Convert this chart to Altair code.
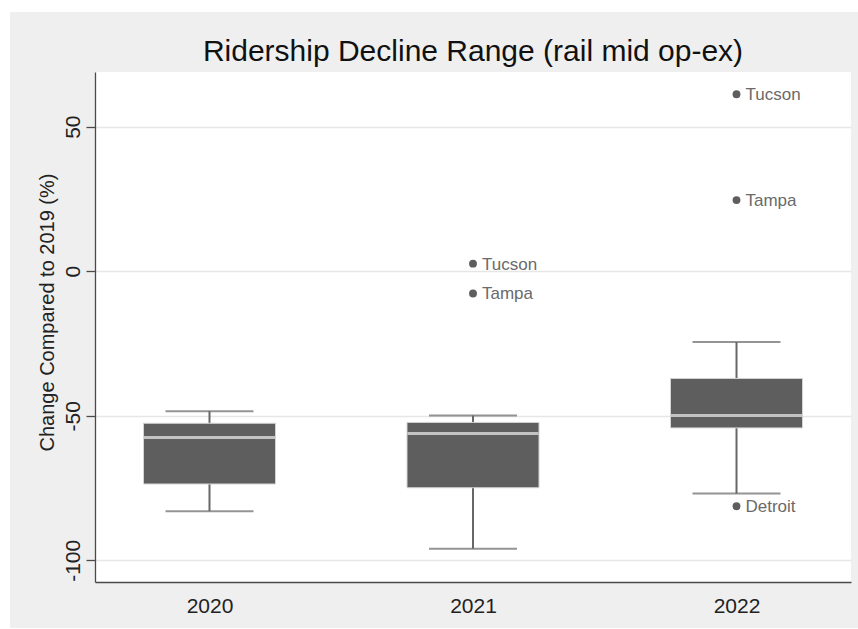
import altair as alt
import pandas as pd

# Five-number summaries per year (percent change vs. 2019)
years = ["2020", "2021", "2022"]
whisker_low = [-83.0, -96.0, -76.9]
box_low = [-73.6, -74.9, -54.2]
median = [-57.5, -56.1, -49.9]
box_high = [-52.6, -52.3, -37.1]
whisker_high = [-48.4, -49.9, -24.5]

# Outlying agencies
outlier_year = ["2021", "2021", "2022", "2022", "2022"]
outlier_city = ["Tucson", "Tampa", "Tucson", "Tampa", "Detroit"]
outlier_value = [2.6, -7.7, 61.2, 24.6, -81.3]

y_ticks = [-100, -50, 0, 50]

boxes = pd.DataFrame({
    "year": years,
    "lo": whisker_low,
    "q1": box_low,
    "med": median,
    "q3": box_high,
    "hi": whisker_high,
})
outliers = pd.DataFrame({
    "year": outlier_year,
    "city": outlier_city,
    "value": outlier_value,
})

FONT = "Liberation Sans"
BOX = "#5e5e5e"
LINE = "#676767"

x_scale = alt.Scale(type="point", padding=0.4345)
y_scale = alt.Scale(domain=[-107.5, 68.9], nice=False, zero=False)

x_axis = alt.Axis(
    title=None, ticks=False, tickSize=0, grid=False, labelAngle=0,
    labelFontSize=21, labelFont=FONT, labelColor="#222222",
    labelBaseline="alphabetic", labelPadding=30,
    domainColor="#4a4a4a", domainWidth=1.3,
)
y_axis = alt.Axis(
    values=y_ticks, grid=True, gridColor="#e6e6e6", gridWidth=1.5,
    tickSize=9, tickColor="#4a4a4a", tickWidth=1.3,
    domainColor="#4a4a4a", domainWidth=1.3,
    labelExpr="'' + datum.value",  # plain hyphen for negatives
    labelAngle=270, labelAlign="center", labelBaseline="alphabetic",
    labelPadding=7, labelFontSize=21, labelFont=FONT, labelColor="#222222",
    title="Change Compared to 2019 (%)", titleFont=FONT, titleFontSize=20,
    titleFontWeight="normal", titleColor="#222222", titleAngle=270,
    titleAlign="center", titleBaseline="alphabetic", titleX=-42, titleY=240,
)

base = alt.Chart(boxes)

whiskers = base.mark_rule(color=LINE, strokeWidth=2).encode(
    x=alt.X("year:N", scale=x_scale, axis=x_axis),
    y=alt.Y("lo:Q", scale=y_scale, axis=y_axis),
    y2="hi:Q",
)
caps_low = base.mark_tick(color=LINE, size=88, thickness=2).encode(
    x="year:N", y="lo:Q"
)
caps_high = base.mark_tick(color=LINE, size=88, thickness=2).encode(
    x="year:N", y="hi:Q"
)
box = base.mark_bar(size=132, color=BOX, stroke="#d4d4d4", strokeWidth=1).encode(
    x="year:N", y="q1:Q", y2="q3:Q"
)
med = base.mark_tick(color="#ececec", size=131, thickness=3).encode(
    x="year:N", y="med:Q"
)

pts = alt.Chart(outliers).mark_circle(size=62, color=BOX, opacity=1).encode(
    x="year:N", y="value:Q"
)
pt_labels = alt.Chart(outliers).mark_text(
    align="left", baseline="middle", dx=9, dy=1, fontSize=17, font=FONT,
    color="#6a6a6a",
).encode(x="year:N", y="value:Q", text="city:N")

# thin white page margins around the grey backdrop
one = pd.DataFrame({"k": [0]})
margin_top = alt.Chart(one).mark_rect(color="white").encode(
    x=alt.value(-95), x2=alt.value(763), y=alt.value(-72), y2=alt.value(-60)
)
margin_left = alt.Chart(one).mark_rect(color="white").encode(
    x=alt.value(-95), x2=alt.value(-85), y=alt.value(-72), y2=alt.value(557)
)
margin_bottom = alt.Chart(one).mark_rect(color="white").encode(
    x=alt.value(-95), x2=alt.value(763), y=alt.value(556), y2=alt.value(557)
)

chart = (
    alt.layer(
        margin_top, margin_left, margin_bottom,
        whiskers, caps_low, caps_high, box, med, pts, pt_labels,
    )
    .properties(
        width=756,
        height=510,
        title=alt.TitleParams(
            "Ridership Decline Range (rail mid op-ex)",
            font=FONT, fontSize=30, fontWeight="normal", color="#111111",
            anchor="middle", baseline="alphabetic", offset=-91,
        ),
        padding={"left": 95, "top": 72, "right": 7, "bottom": 47},
        autosize=alt.AutoSizeParams(type="none"),
    )
    .configure(background="#efefef")
    .configure_view(fill="white", stroke=None)
)

chart.save("out.html", embed_options={"renderer": "svg", "actions": False})
